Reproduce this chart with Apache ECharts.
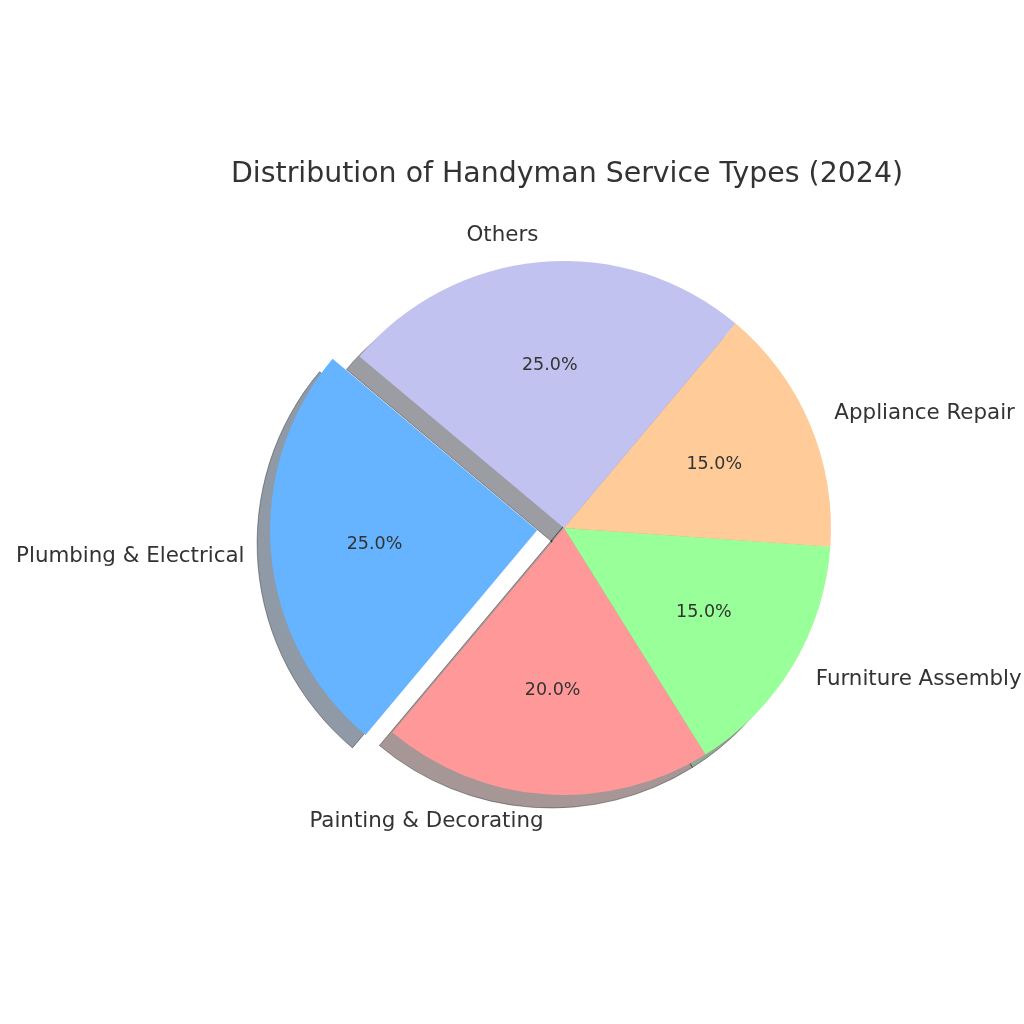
<!DOCTYPE html>
<html>
<head>
<meta charset="utf-8">
<script src="https://cdn.jsdelivr.net/npm/echarts@6/dist/echarts.min.js"></script>
<style>html,body{margin:0;padding:0;background:#fff}#c{width:1024px;height:1024px}</style>
</head>
<body>
<div id="c"></div>
<script>
const categories = ['Plumbing & Electrical', 'Painting & Decorating', 'Furniture Assembly', 'Appliance Repair', 'Others'];
const shares = [25, 20, 15, 15, 25];
const colors = ['#66b3ff', '#ff9999', '#99ff99', '#ffcc99', '#c2c2f0'];
const exploded = [true, false, false, false, false];
const titleText = 'Distribution of Handyman Service Types (2024)';

const CX = 564, CY = 528, R = 267, EXPLODE = 27, SH = 13;
const FONT = 'DejaVu Sans';

function shadowColor(hex) {
  const n = parseInt(hex.slice(1), 16);
  const r = Math.round(((n >> 16) & 255) * 0.3), g = Math.round(((n >> 8) & 255) * 0.3), b = Math.round((n & 255) * 0.3);
  return `rgba(${r},${g},${b},0.5)`;
}

const common = {
  type: 'pie',
  clockwise: false,
  startAngle: 140,
  selectedMode: 'single',
  selectedOffset: EXPLODE,
  avoidLabelOverlap: false,
  animation: false,
  emphasis: { disabled: true },
  silent: true
};

const chart = echarts.init(document.getElementById('c'));
chart.setOption({
  backgroundColor: '#ffffff',
  animation: false,
  title: {
    text: titleText,
    left: 562,
    textAlign: 'center',
    top: 156,
    textStyle: { fontFamily: FONT, fontSize: 28.4, fontWeight: 'normal', color: '#333333' }
  },
  series: [
    Object.assign({}, common, {
      name: 'shadow',
      z: 1,
      center: [CX - SH, CY + SH],
      radius: [0, R],
      label: { show: false },
      labelLine: { show: false },
      data: categories.map((c, i) => ({
        name: c, value: shares[i], selected: exploded[i],
        itemStyle: { color: shadowColor(colors[i]), borderColor: 'rgba(0,0,0,0.35)', borderWidth: 1 }
      }))
    }),
    Object.assign({}, common, {
      name: 'main',
      z: 2,
      center: [CX, CY],
      radius: [0, R],
      label: {
        show: true,
        position: 'outside',
        distanceToLabelLine: 0,
        overflow: 'none',
        fontFamily: FONT,
        fontSize: 21.4,
        color: '#333333',
        formatter: '{b}'
      },
      labelLine: { show: false, length: R * 0.1, length2: 0 },
      itemStyle: { borderWidth: 0 },
      data: categories.map((c, i) => ({
        name: c, value: shares[i], selected: exploded[i],
        itemStyle: { color: colors[i] }
      }))
    }),
    Object.assign({}, common, {
      name: 'pct',
      z: 3,
      center: [CX, CY],
      radius: [0, R * 1.2],
      percentPrecision: 1,
      label: {
        show: true,
        position: 'inside',
        fontFamily: FONT,
        fontSize: 17.5,
        color: '#333333',
        formatter: p => p.percent.toFixed(1) + '%'
      },
      labelLine: { show: false },
      itemStyle: { color: 'rgba(0,0,0,0)', borderWidth: 0 },
      data: categories.map((c, i) => ({
        name: c, value: shares[i], selected: exploded[i]
      }))
    })
  ]
});
</script>
</body>
</html>
